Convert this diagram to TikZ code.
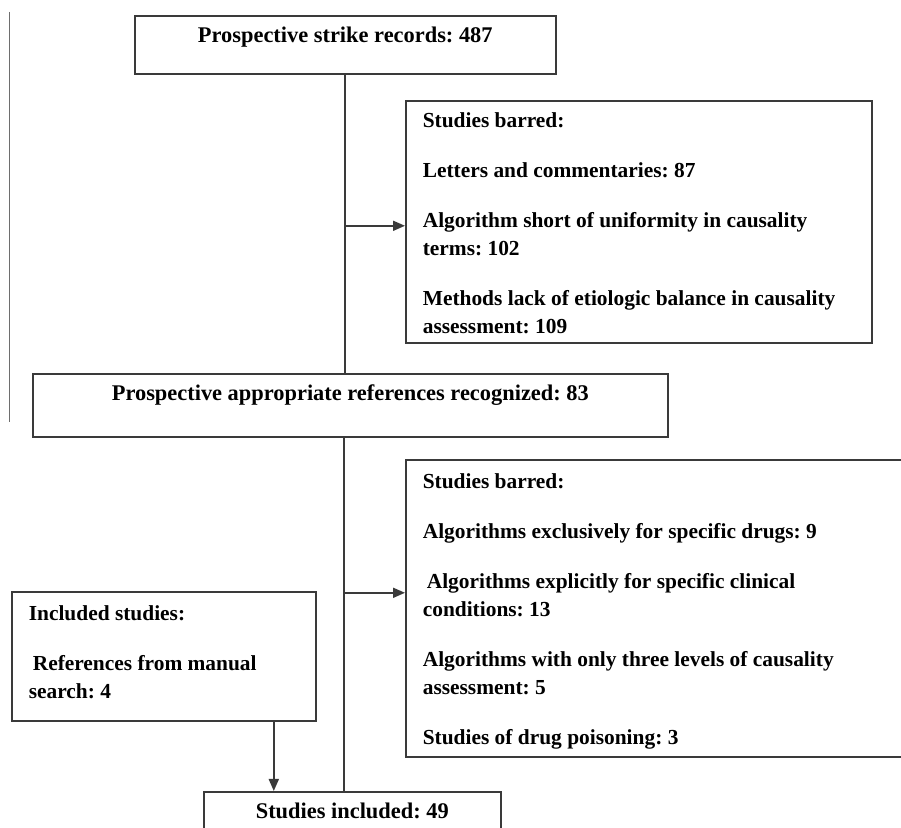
\documentclass[tikz,border=0pt]{standalone}
\usepackage{fontspec}
\setmainfont{Liberation Serif}
\usetikzlibrary{arrows.meta}
\definecolor{boxgray}{HTML}{3A3A3A}
\definecolor{rulegray}{HTML}{6E6E6E}
\frenchspacing
\hyphenpenalty=10000

\begin{document}
\begin{tikzpicture}[x=0.5pt, y=-0.5pt,
  stagebox/.style={draw=boxgray, line width=0.8pt, anchor=north west, inner xsep=0pt, inner ysep=0pt,
    text height=13.5pt, align=center, font=\fontsize{11.2}{14}\selectfont\bfseries},
  notebox/.style={draw=boxgray, line width=0.8pt, anchor=north west, inner xsep=8.5pt, inner ysep=0pt,
    align=flush left, font=\fontsize{10.7}{14}\selectfont\bfseries},
  link/.style={draw=boxgray, line width=0.9pt},
  flow/.style={link, -{Triangle[length=6pt,width=5pt]}}]
  \clip (0,0) rectangle (901,828);

  % stray rule on the left margin
  \draw[rulegray, line width=0.5pt] (9,12) -- (9,422);

  % main stages
  \node[stagebox, minimum width=210.5pt, text depth=15.5pt] (records) at (134,15) {Prospective strike records: 487};
  \node[stagebox, minimum width=317.5pt, text depth=18pt] (appropriate) at (32,373) {Prospective appropriate references recognized: 83};
  \node[stagebox, minimum width=148.5pt, text depth=20pt] (included) at (203,791) {Studies included: 49};

  % side boxes
  \node[notebox, text width=216pt, text height=13.5pt, text depth=107.5pt] (barred1) at (405,100) {%
    Studies barred:\\[11pt]
    Letters and commentaries: 87\\[11pt]
    Algorithm short of uniformity in causality\\
    terms: 102\\[11pt]
    Methods lack of etiologic balance in causality\\
    assessment: 109};
  \node[notebox, text width=260pt, text height=14.5pt, text depth=134pt] (barred2) at (405,459) {%
    Studies barred:\\[11pt]
    Algorithms exclusively for specific drugs: 9\\[11pt]
    \hspace{2pt}Algorithms explicitly for specific clinical\\
    conditions: 13\\[11pt]
    Algorithms with only three levels of causality\\
    assessment: 5\\[11pt]
    Studies of drug poisoning: 3};
  \node[notebox, text width=135pt, text height=14.5pt, text depth=50pt] (manual) at (11,591) {%
    Included studies:\\[11pt]
    \hspace{2pt}References from manual\\
    search: 4};

  % connectors
  \draw[link] (records.south) -- (records.south |- appropriate.north);
  \coordinate (cut1) at ([yshift=-2pt]barred1.west);
  \draw[flow] (cut1 -| records.south) -- (cut1);
  \coordinate (trunk2) at ([xshift=-3.25pt]appropriate.south);
  \draw[link] (trunk2) -- (trunk2 |- included.north);
  \coordinate (cut2) at ([yshift=7.75pt]barred2.west);
  \draw[flow] (cut2 -| trunk2) -- (cut2);
  \coordinate (drop) at ([xshift=55pt]manual.south);
  \draw[flow] (drop) -- (drop |- included.north);
\end{tikzpicture}
\end{document}
